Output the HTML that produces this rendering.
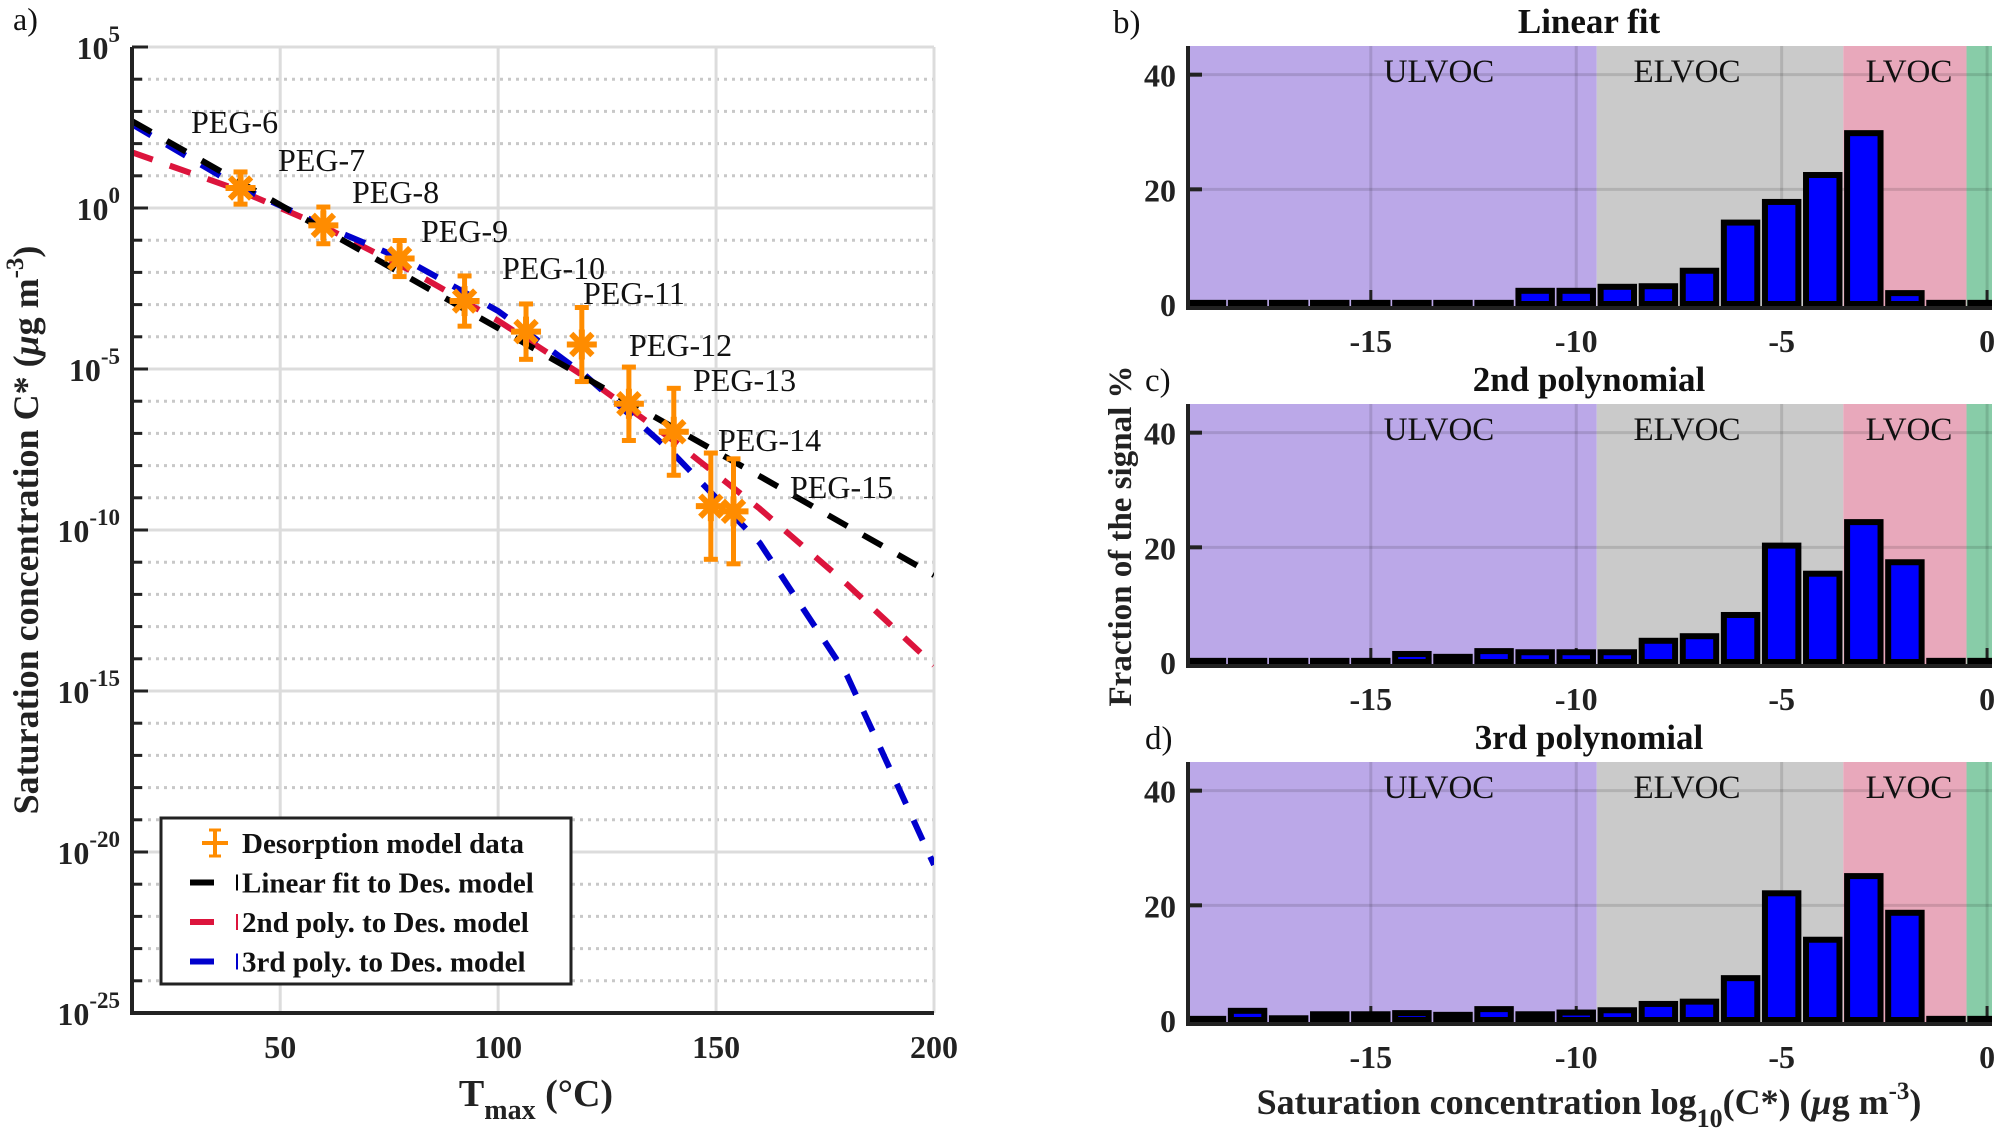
<!DOCTYPE html>
<html><head><meta charset="utf-8"><style>
html,body{margin:0;padding:0;background:#fff;}
svg{display:block;font-family:"Liberation Serif",serif;}
svg text{font-family:"Liberation Serif",serif;}
</style></head><body>
<svg id="chart" width="2000" height="1134" viewBox="0 0 2000 1134" xmlns="http://www.w3.org/2000/svg" font-family="Liberation Serif, serif">
<g id="left"></g>
<g id="right"></g>
</svg>
<script>
// ---- Panel a data ----
const curveT = [16,40,60,80,100,120,140,160,180,200];
const linearFit = [2.7,0.86,-0.67,-2.2,-3.73,-5.27,-6.8,-8.33,-9.87,-11.4];
const poly2Fit = [1.73,0.58,-0.58,-1.95,-3.5,-5.25,-7.2,-9.34,-11.68,-14.2];
const poly3Fit = [2.6,0.7,-0.55,-1.7,-3.2,-5.2,-7.6,-10.4,-14.5,-20.4];
const pegNames = ["PEG-6","PEG-7","PEG-8","PEG-9","PEG-10","PEG-11","PEG-12","PEG-13","PEG-14","PEG-15"];
const pegT = [40.9,59.9,77.4,92.3,106.4,119.2,130,140.3,148.8,154];
const pegLogC = [0.62,-0.54,-1.57,-2.89,-3.84,-4.24,-6.08,-6.95,-9.26,-9.42];
const pegErr = [0.5,0.57,0.56,0.78,0.86,1.15,1.14,1.35,1.65,1.63];
const pegTErr = [3,3,3,3,3,3,3,3,3,3];
const xTicksA = [50,100,150,200];
const yTicksA = [5,0,-5,-10,-15,-20,-25];
// ---- Panels b-d data ----
const bins = [-19,-18,-17,-16,-15,-14,-13,-12,-11,-10,-9,-8,-7,-6,-5,-4,-3,-2,-1,0];
const linearHist = [0.2,0.2,0.2,0.2,0.2,0.2,0.2,0.2,2.3,2.3,3.0,3.1,5.8,14.2,17.8,22.5,29.8,1.9,0.2,0.2];
const poly2Hist = [0.2,0.2,0.2,0.2,0.2,1.4,0.9,1.9,1.7,1.7,1.7,3.7,4.5,8.2,20.3,15.4,24.4,17.4,0.2,0.2];
const poly3Hist = [0.2,1.6,0.3,1.0,1.0,1.2,0.9,1.9,1.0,1.3,1.7,2.8,3.2,7.3,22.1,14.0,25.1,18.7,0.2,0.2];
const xTicksB = [-15,-10,-5,0];
const yTicksB = [0,20,40];
const regionNames = ["ULVOC","ELVOC","LVOC","SVOC"];
const regionEdges = [-19.45,-9.5,-3.5,-0.5,0.12];

const NS="http://www.w3.org/2000/svg";
function mk(tag,attrs,parent,text){const e=document.createElementNS(NS,tag);for(const k in attrs)e.setAttribute(k,attrs[k]);if(text!==undefined)e.textContent=text;parent.appendChild(e);return e;}

// ===== Panel a =====
const A=document.getElementById('left');
const aL=132,aR=934,aT=47,aB=1013,txMin=16,txMax=200,lyMax=5,lyMin=-25;
const ax=t=>aL+(t-txMin)/(txMax-txMin)*(aR-aL);
const ay=v=>aT+(lyMax-v)/(lyMax-lyMin)*(aB-aT);
for(let d=lyMax;d>=lyMin;d--){
  const major=(d%5===0);
  const g=mk('line',{x1:aL,x2:aR,y1:ay(d),y2:ay(d),stroke:major?'#dcdcdc':'#c8c8c8','stroke-width':3,'stroke-dasharray':major?'none':'3 5'},A);
  
  
  const tk=mk('line',{x1:aL,x2:aL+(major?16:10),y1:ay(d),y2:ay(d),stroke:'#222','stroke-width':3},A);
  
  
}
xTicksA.forEach(t=>{
  const g=mk('line',{x1:ax(t),x2:ax(t),y1:aT,y2:aB,stroke:'#dcdcdc','stroke-width':3},A);
  
  
  const lb=mk('text',{x:ax(t),y:aB+45,'text-anchor':'middle','font-size':32,'font-weight':'bold',fill:'#222'},A,String(t));
  
  
});
yTicksA.forEach(d=>{
  const t=mk('text',{x:120,y:ay(d)+12,'text-anchor':'end','font-size':32,'font-weight':'bold',fill:'#222'},A);
  
  
  mk('tspan',{},t,'10');
  mk('tspan',{dy:-17,'font-size':23},t,String(d));
});
const clipA=mk('clipPath',{id:'clipA'},A);mk('rect',{x:aL,y:aT,width:aR-aL,height:aB-aT},clipA);
function curve(vals,color,name){
  let d='';curveT.forEach((t,i)=>{d+=(i?'L':'M')+ax(t).toFixed(1)+' '+ay(vals[i]).toFixed(1);});
  const p=mk('path',{d:d,fill:'none',stroke:color,'stroke-width':6,'stroke-dasharray':'22 18','clip-path':'url(#clipA)'},A);
  
  
}
curve(poly2Fit,'#dc143c','poly2-fit-line');
curve(poly3Fit,'#0000cd','poly3-fit-line');
curve(linearFit,'#000','linear-fit-line');
const org='#ff8c00';
pegT.forEach((t,i)=>{
  const g=mk('g',{},A);
  
  
  const x=ax(t),y=ay(pegLogC[i]),y1=ay(pegLogC[i]+pegErr[i]),y2=ay(pegLogC[i]-pegErr[i]);
  const x1=ax(t-pegTErr[i]),x2=ax(t+pegTErr[i]);
  mk('line',{x1:x,x2:x,y1:y1,y2:y2,stroke:org,'stroke-width':5},g);
  mk('line',{x1:x-7,x2:x+7,y1:y1,y2:y1,stroke:org,'stroke-width':5},g);
  mk('line',{x1:x-7,x2:x+7,y1:y2,y2:y2,stroke:org,'stroke-width':5},g);
  mk('line',{x1:x1,x2:x2,y1:y,y2:y,stroke:org,'stroke-width':5},g);
  for(let k=0;k<4;k++){const a=k*Math.PI/4,r=15;
    mk('line',{x1:x-r*Math.cos(a),x2:x+r*Math.cos(a),y1:y-r*Math.sin(a),y2:y+r*Math.sin(a),stroke:org,'stroke-width':6},g);}
});
</script>
<script>
(function(){
const A=document.getElementById('left');
const pos=[[191,133],[278,171],[352,203],[421,242],[502,279],[583,304],[629,356],[693,391],[718,451],[790,498]];
pegNames.forEach((n,i)=>{
  const t=document.createElementNS("http://www.w3.org/2000/svg",'text');
  t.setAttribute('x',pos[i][0]);t.setAttribute('y',pos[i][1]);t.setAttribute('font-size',32);t.setAttribute('fill','#111');
  t.textContent=n;
  
  
  A.appendChild(t);
});
})();
</script>
<script>
(function(){
const NS="http://www.w3.org/2000/svg";
function mk(tag,attrs,parent,text){const e=document.createElementNS(NS,tag);for(const k in attrs)e.setAttribute(k,attrs[k]);if(text!==undefined)e.textContent=text;parent.appendChild(e);return e;}
const A=document.getElementById('left');
const sp=mk('path',{d:'M132 47 L132 1013 L934 1013',fill:'none',stroke:'#222','stroke-width':4},A);


const lg=mk('g',{},A);


mk('rect',{x:161,y:818,width:410,height:166,fill:'#fff',stroke:'#222','stroke-width':3},lg);
const items=[['Desorption model data','#ff8c00'],['Linear fit to Des. model','#000'],['2nd poly. to Des. model','#dc143c'],['3rd poly. to Des. model','#0000cd']];
items.forEach((it,i)=>{
  const y=843+i*39.5;
  const e=mk('g',{},lg);
  
  
  if(i===0){
    mk('line',{x1:202,x2:228,y1:y,y2:y,stroke:it[1],'stroke-width':4},e);
    mk('line',{x1:215,x2:215,y1:y-13,y2:y+13,stroke:it[1],'stroke-width':4},e);
    mk('line',{x1:209,x2:221,y1:y-13,y2:y-13,stroke:it[1],'stroke-width':3},e);
    mk('line',{x1:209,x2:221,y1:y+13,y2:y+13,stroke:it[1],'stroke-width':3},e);
  } else {
    mk('line',{x1:190,x2:214,y1:y,y2:y,stroke:it[1],'stroke-width':6},e);
    mk('line',{x1:237,x2:237,y1:y-8,y2:y+8,stroke:it[1],'stroke-width':2},e);
  }
  mk('text',{x:242,y:y+10,'font-size':29,'font-weight':'bold',fill:'#111'},e,it[0]);
});
const pa=mk('text',{x:13,y:30,'font-size':32,fill:'#111'},A,'a)');

const xl=mk('text',{x:536,y:1106,'text-anchor':'middle','font-size':38,'font-weight':'bold',fill:'#222'},A);

mk('tspan',{},xl,'T');mk('tspan',{dy:13,'font-size':28},xl,'max');mk('tspan',{dy:-13},xl,' (°C)');
const yl=mk('text',{x:0,y:0,transform:'translate(38 530) rotate(-90)','text-anchor':'middle','font-size':36,'font-weight':'bold',fill:'#222'},A);

mk('tspan',{},yl,'Saturation concentration C* (');mk('tspan',{'font-style':'italic'},yl,'μ');mk('tspan',{},yl,'g m');mk('tspan',{dy:-15,'font-size':25},yl,'-3');mk('tspan',{dy:15},yl,')');

// ===== Panels b-d =====
const R=document.getElementById('right');
const bL=1188,bR=1992,xMin=regionEdges[0],xMax=regionEdges[4];
const bx=v=>bL+(v-xMin)/(xMax-xMin)*(bR-bL);
const colors=['#bba8e8','#cacaca','#e8a8bb','#88cca8'];
const panels=[{top:46,zero:304,data:linearHist,title:'Linear fit',lab:'b)',lx:1113,name:'panel-b'},
              {top:404,zero:662,data:poly2Hist,title:'2nd polynomial',lab:'c)',lx:1145,name:'panel-c'},
              {top:762,zero:1020,data:poly3Hist,title:'3rd polynomial',lab:'d)',lx:1145,name:'panel-d'}];
panels.forEach(P=>{
  const g=mk('g',{},R);
  
  
  const sc=(P.zero-P.top)/45;
  const by=v=>P.zero-v*sc;
  for(let i=0;i<4;i++){
    const r=mk('rect',{x:bx(regionEdges[i]),y:P.top,width:bx(regionEdges[i+1])-bx(regionEdges[i]),height:P.zero-P.top+4,fill:colors[i]},g);
    
    
  }
  yTicksB.forEach(v=>{
    if(v>0) mk('line',{x1:bL,x2:bR,y1:by(v),y2:by(v),stroke:'rgba(0,0,0,0.12)','stroke-width':3},g);
    mk('line',{x1:bL,x2:bL+14,y1:by(v),y2:by(v),stroke:'#222','stroke-width':4},g);
    const t=mk('text',{x:1176,y:by(v)+12,'text-anchor':'end','font-size':32,'font-weight':'bold',fill:'#222'},g,String(v));
    
    
  });
  xTicksB.forEach(v=>{
    mk('line',{x1:bx(v),x2:bx(v),y1:P.top,y2:P.zero,stroke:'rgba(0,0,0,0.12)','stroke-width':3},g);
    mk('line',{x1:bx(v),x2:bx(v),y1:P.zero-14,y2:P.zero+2,stroke:'#222','stroke-width':3},g);
    const t=mk('text',{x:bx(v),y:P.zero+48,'text-anchor':'middle','font-size':32,'font-weight':'bold',fill:'#222'},g,String(v));
    
    
  });
  ['ULVOC','ELVOC','LVOC'].forEach((n,i)=>{
    const cx=[1439,1687,1909][i];
    const t=mk('text',{x:cx,y:P.top+36,'text-anchor':'middle','font-size':33,fill:'#111'},g,n);
    
    
  });
  const clip=mk('clipPath',{id:'clip'+P.name},g);mk('rect',{x:bL,y:P.top,width:bR-bL,height:P.zero-P.top+8},clip);
  const bw=bx(0.96)-bx(0);
  bins.forEach((b,i)=>{
    const h=Math.max(P.data[i]*sc,1);
    const r=mk('rect',{x:bx(b)-bw/2+3,y:P.zero-h,width:bw-6,height:h,fill:'#0000ff',stroke:'#000','stroke-width':6,'clip-path':'url(#clip'+P.name+')'},g);
    
    
  });
  mk('path',{d:`M${bL} ${P.top} L${bL} ${P.zero+4} L${bR} ${P.zero+4}`,fill:'none',stroke:'#222','stroke-width':4},g);
  const ti=mk('text',{x:1589,y:P.top-13,'text-anchor':'middle','font-size':35,'font-weight':'bold',fill:'#111'},g,P.title);
  
  
  const lb=mk('text',{x:P.lx,y:P.top-13,'font-size':33,fill:'#111'},g,P.lab);
  
  
});
const yl2=mk('text',{x:0,y:0,transform:'translate(1131 536) rotate(-90)','text-anchor':'middle','font-size':33,'font-weight':'bold',fill:'#222'},R,'Fraction of the signal %');

const xl2=mk('text',{x:1589,y:1114,'text-anchor':'middle','font-size':36,'font-weight':'bold',fill:'#222'},R);

mk('tspan',{},xl2,'Saturation concentration log');mk('tspan',{dy:13,'font-size':26},xl2,'10');mk('tspan',{dy:-13},xl2,'(C*) (');mk('tspan',{'font-style':'italic'},xl2,'μ');mk('tspan',{},xl2,'g m');mk('tspan',{dy:-15,'font-size':25},xl2,'-3');mk('tspan',{dy:15},xl2,')');
})();
</script>
</body></html>
